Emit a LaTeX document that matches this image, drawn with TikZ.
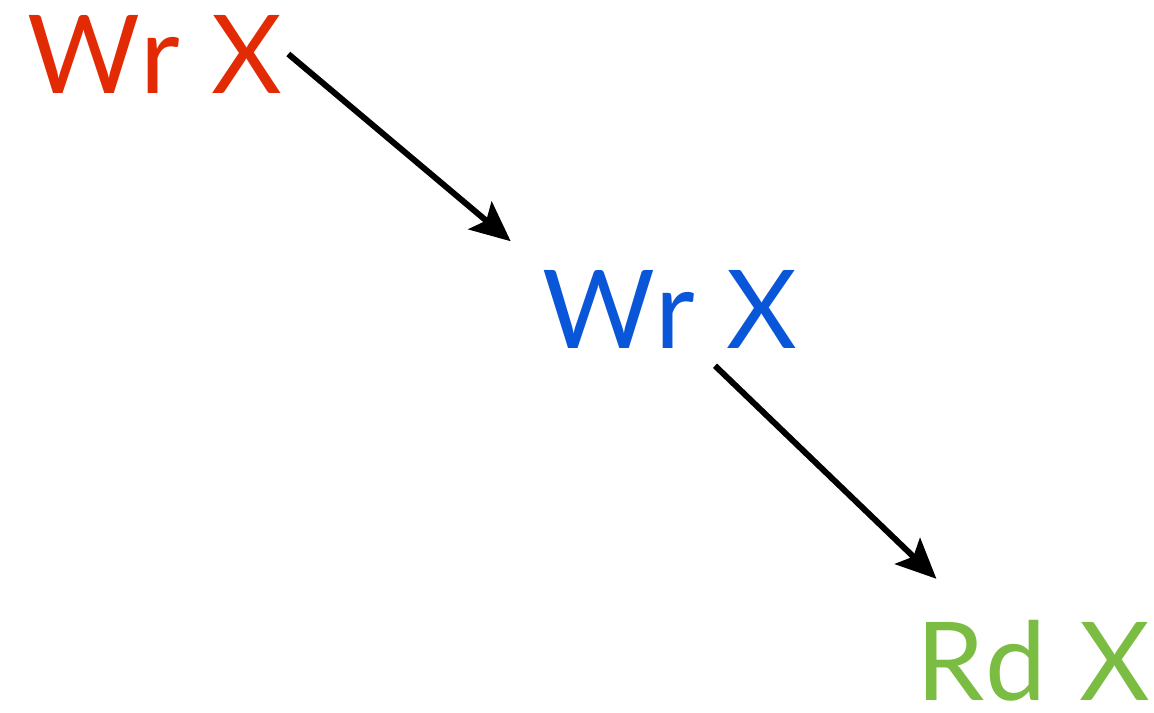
\documentclass[tikz,border=0pt]{standalone}
\usepackage{fontspec}
\setmainfont{Lato}[LetterSpace=4]
\usepackage{tikz}
\usetikzlibrary{arrows.meta,positioning}
\definecolor{wrred}{RGB}{226,42,4}
\definecolor{wrblue}{RGB}{10,86,216}
\definecolor{rdgreen}{RGB}{122,189,66}
\tikzset{
  access/.style={inner sep=0.03cm, font=\fontsize{31}{36}\selectfont},
  order/.style={-{Stealth[length=0.4cm,width=0.36cm,inset=0.08cm]},
    line width=1.7pt, black},
}
\begin{document}
\begin{tikzpicture}[x=1cm, y=1cm]
\useasboundingbox (0,0) rectangle (11.54,7.12);

%% -- accesses --
\node[access, text=wrred]   (wr_first)  at (1.55, 6.58) {Wr X};
\node[access, text=wrblue]  (wr_second) at (6.70, 4.03) {Wr X};
\node[access, text=rdgreen] (rd_last)   at (10.33, 0.51) {Rd X};

%% -- ordering --
\draw[order] ([xshift=0.02cm]wr_first.east) -- ([shift={(-0.28cm,0.25cm)}]wr_second.north west);
\draw[order] ([shift={(0.45cm,-0.14cm)}]wr_second.south)
  -- ([shift={(0.24cm,0.38cm)}]rd_last.north west);

\end{tikzpicture}
\end{document}
